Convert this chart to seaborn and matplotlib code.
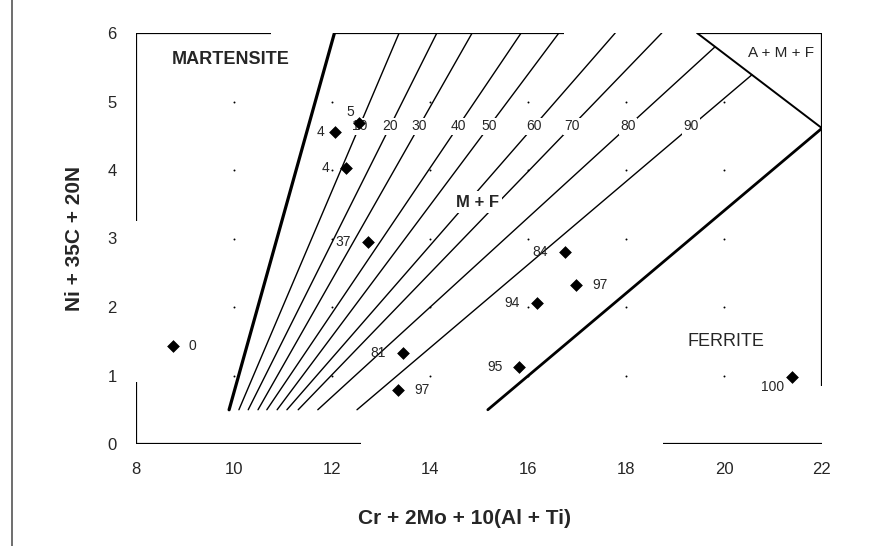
import numpy as np
import pandas as pd
import matplotlib
matplotlib.use("Agg")
import matplotlib.pyplot as plt
import seaborn as sns
from matplotlib.lines import Line2D

# Iso-ferrite lines: start on Y = 0.5, end on the top edge or the A+M+F boundary
ferrite_pct = [10, 20, 30, 40, 50, 60, 70, 80, 90]
line_x0 = [10.10, 10.29, 10.49, 10.67, 10.88, 11.08, 11.31, 11.71, 12.51]
line_y0 = [0.5] * 9
line_x1 = [13.37, 14.14, 14.86, 15.86, 16.63, 17.78, 18.73, 19.82, 20.57]
line_y1 = [6.0, 6.0, 6.0, 6.0, 6.0, 6.0, 6.0, 5.80, 5.39]
label_row_y = 4.64

# Phase boundaries
martensite_bound_x = [9.90, 12.05]
martensite_bound_y = [0.5, 6.0]
ferrite_bound_x = [15.18, 22.0]
ferrite_bound_y = [0.5, 4.61]
amf_bound_x = [19.45, 22.0]
amf_bound_y = [6.0, 4.61]

# Alloys: Cr-equivalent, Ni-equivalent and measured ferrite content
cr_eq = [8.76, 12.06, 12.55, 12.29, 12.73, 13.45, 13.35, 16.76, 16.18, 16.98, 15.82, 21.39]
ni_eq = [1.43, 4.55, 4.69, 4.03, 2.95, 1.33, 0.79, 2.80, 2.06, 2.32, 1.12, 0.98]
alloy_labels = ["0", "4", "5", "4", "37", "81", "97", "84", "94", "97", "95", "100"]
label_dx = [0.40, -0.30, -0.18, -0.43, -0.51, -0.51, 0.49, -0.52, -0.51, 0.49, -0.49, -0.39]
label_dy = [0.0, 0.0, 0.16, 0.0, 0.0, 0.0, 0.0, 0.0, 0.0, 0.0, 0.0, -0.15]

x_ticks = [8, 10, 12, 14, 16, 18, 20, 22]
y_ticks = [0, 1, 2, 3, 4, 5, 6]

# Frame pieces that survive around the plotting area
frame_x = [[8, 8], [8, 8], [8, 12.6], [18.75, 22], [22, 22], [8, 10.75], [12.05, 16.73], [19.45, 22]]
frame_y = [[3.25, 6], [0, 0.9], [0, 0], [0, 0], [0.85, 6], [6, 6], [6, 6], [6, 6]]

sns.set_theme(style="white")
plt.rcParams["font.family"] = ["Liberation Sans", "DejaVu Sans"]

fig = plt.figure(figsize=(8.79, 5.46), dpi=100)
ax = fig.add_axes([136 / 879, 1 - 444 / 546, 686 / 879, 411 / 546])
ax.set_xlim(8, 22)
ax.set_ylim(0, 6)
for s in ax.spines.values():
    s.set_visible(False)

for fx, fy in zip(frame_x, frame_y):
    ax.plot(fx, fy, color="black", lw=1.6, solid_capstyle="butt")

# faint dots at grid intersections
gx, gy = np.meshgrid([10, 12, 14, 16, 18, 20], [1, 2, 3, 4, 5])
ax.scatter(gx.ravel(), gy.ravel(), s=2, color="black", linewidths=0, zorder=1)

# iso-ferrite lines with their labels
for pct, x0, y0, x1, y1 in zip(ferrite_pct, line_x0, line_y0, line_x1, line_y1):
    ax.plot([x0, x1], [y0, y1], color="black", lw=1.0, zorder=2)
    xl = x0 + (label_row_y - y0) * (x1 - x0) / (y1 - y0)
    ax.text(xl, label_row_y, str(pct), ha="center", va="center", fontsize=10,
            zorder=3, bbox=dict(facecolor="white", edgecolor="none", pad=1.0))

ax.plot(martensite_bound_x, martensite_bound_y, color="black", lw=2.3, zorder=2)
ax.plot(ferrite_bound_x, ferrite_bound_y, color="black", lw=2.0, zorder=2)
ax.plot(amf_bound_x, amf_bound_y, color="black", lw=1.4, zorder=2)

alloys = pd.DataFrame({"cr": cr_eq, "ni": ni_eq, "lab": alloy_labels})
sns.scatterplot(data=alloys, x="cr", y="ni", marker="D", s=36, color="black",
                edgecolor="black", ax=ax, zorder=4)
for x, y, t, dx, dy in zip(cr_eq, ni_eq, alloy_labels, label_dx, label_dy):
    ax.text(x + dx, y + dy, t, ha="center", va="center", fontsize=10, zorder=5)

ax.text(9.94, 5.62, "MARTENSITE", ha="center", va="center", fontsize=13, fontweight="bold")
ax.text(14.96, 3.53, "M + F", ha="center", va="center", fontsize=12, fontweight="bold",
        bbox=dict(facecolor="white", edgecolor="none", pad=2.5), zorder=6)
ax.text(20.04, 1.49, "FERRITE", ha="center", va="center", fontsize=13)
ax.text(21.16, 5.71, "A + M + F", ha="center", va="center", fontsize=11)

ax.set_xticks(x_ticks)
ax.set_yticks(y_ticks)
ax.tick_params(length=0, labelsize=12)
ax.tick_params(axis="x", pad=13)
ax.tick_params(axis="y", pad=14)
ax.set_xlabel("Cr + 2Mo + 10(Al + Ti)", fontsize=15, fontweight="bold")
ax.set_ylabel("Ni + 35C + 20N", fontsize=15, fontweight="bold", labelpad=17)
ax.xaxis.label.set_va("center")
ax.xaxis.set_label_coords((465 - 136) / 686, -(518 - 444) / 411)

fig.add_artist(Line2D([12 / 879, 12 / 879], [0, 1], color="#555555", lw=1.2))

fig.savefig("out.png", dpi=100, facecolor="white")
